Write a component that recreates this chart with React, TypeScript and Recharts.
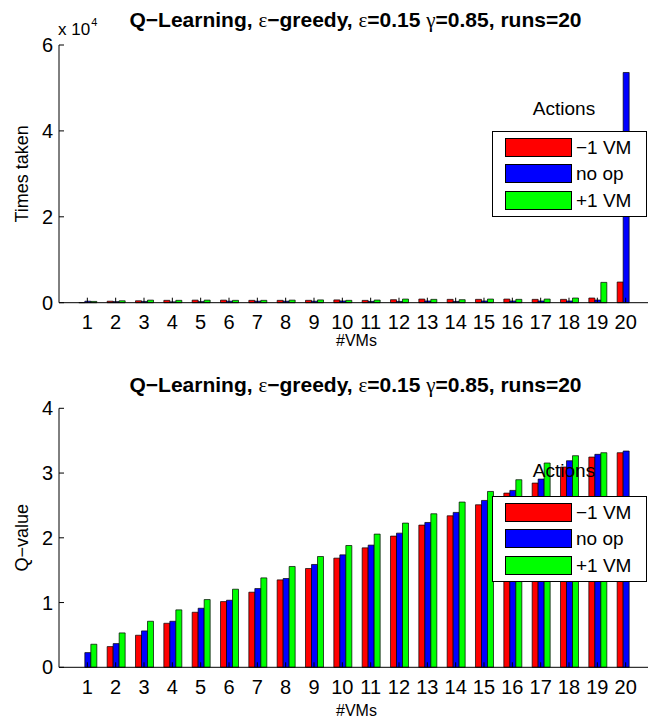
import React from 'react';
import { BarChart, Bar, XAxis, YAxis, Legend } from 'recharts';

// #VMs on the x axis
const vms = [1, 2, 3, 4, 5, 6, 7, 8, 9, 10, 11, 12, 13, 14, 15, 16, 17, 18, 19, 20];

// top panel: how many times each action was taken
const timesDec = [20, 350, 450, 550, 600, 600, 550, 550, 550, 650, 540, 700, 850, 780, 780, 850, 780, 780, 1090, 4810];
const timesNoop = [350, 250, 300, 200, 250, 350, 350, 350, 350, 400, 300, 300, 400, 300, 400, 400, 400, 400, 620, 53600];
const timesInc = [300, 450, 600, 550, 600, 550, 550, 600, 650, 550, 620, 850, 780, 700, 850, 780, 850, 1090, 4730, 0];

// bottom panel: learned Q-values
const qDec = [0, 0.32, 0.495, 0.68, 0.85, 1.015, 1.16, 1.35, 1.526, 1.686, 1.845, 2.026, 2.196, 2.34, 2.51, 2.69, 2.845, 3.093, 3.247, 3.314];
const qNoop = [0.227, 0.366, 0.562, 0.711, 0.912, 1.036, 1.216, 1.371, 1.588, 1.737, 1.887, 2.072, 2.237, 2.392, 2.577, 2.732, 2.907, 3.19, 3.289, 3.34];
const qInc = [0.356, 0.531, 0.711, 0.887, 1.046, 1.206, 1.381, 1.557, 1.711, 1.881, 2.057, 2.227, 2.371, 2.552, 2.716, 2.897, 3.155, 3.268, 3.314, 0];

const actionNames = ['\u22121 VM', 'no op', '+1 VM'];
const actionColors = ['#ff0000', '#0000ff', '#00ff00'];

const timesTicks = [0, 20000, 40000, 60000];
const qTicks = [0, 1, 2, 3, 4];

const FONT = '"Liberation Sans", Arial, Helvetica, sans-serif';

const timesData = vms.map((vm, i) => ({ vm, dec: timesDec[i], noop: timesNoop[i], inc: timesInc[i] }));
const qData = vms.map((vm, i) => ({ vm, dec: qDec[i], noop: qNoop[i], inc: qInc[i] }));

const tickStyle = { fill: '#000', fontSize: 20, fontFamily: FONT };

const Title: React.FC<{ top: number }> = ({ top }) => {
  const sym: React.CSSProperties = { fontFamily: '"Liberation Serif", "DejaVu Serif", serif', fontWeight: 'normal' };
  return (
    <div
      style={{
        position: 'absolute', top, left: 0, width: 711, textAlign: 'center',
        fontFamily: FONT, fontWeight: 'bold', fontSize: 21, lineHeight: '21px', color: '#000', whiteSpace: 'nowrap',
      }}
    >
      Q{'\u2212'}Learning, <span style={sym}>ε</span>{'\u2212'}greedy, <span style={sym}>ε</span>=0.15{' '}
      <span style={sym}>γ</span>=0.85, runs=20
    </div>
  );
};

const ActionsLegend = ({ payload, boxTop }: any) => {
  // recharts hands the entries back in reverse; keep them in the order of the series
  const items = [...(payload || [])].sort(
    (a: any, b: any) => actionNames.indexOf(a.value) - actionNames.indexOf(b.value)
  );
  return (
    <div style={{ position: 'relative', width: 156, height: boxTop + 86, fontFamily: FONT, color: '#000' }}>
      <div style={{ position: 'absolute', left: 72, top: 0, transform: 'translateX(-50%)', fontSize: 19, lineHeight: '22px' }}>
        Actions
      </div>
      <div
        style={{
          position: 'absolute', left: 0, top: boxTop, width: 155, height: 86, boxSizing: 'border-box',
          border: '1px solid #000', background: '#fff',
        }}
      >
        {items.map((p: any, i: number) => (
          <div key={p.value} style={{ position: 'absolute', left: 12, top: 6 + i * 26.5, height: 19, display: 'flex', alignItems: 'center' }}>
            <div style={{ width: 67, height: 19, boxSizing: 'border-box', background: p.color, border: '1px solid #000' }} />
            <span style={{ marginLeft: 4, fontSize: 19, lineHeight: '19px' }}>{p.value}</span>
          </div>
        ))}
      </div>
    </div>
  );
};

interface PanelProps {
  data: { vm: number; dec: number; noop: number; inc: number }[];
  height: number;
  marginTop: number;
  marginBottom: number;
  xAxisHeight: number;
  yDomain: [number, number];
  yTicks: number[];
  yFormat: (v: number) => string;
  yLabel: string;
  labelOffset: number;
  legendTop: number;
  boxTop: number;
}

const Panel: React.FC<PanelProps> = (p) => (
  <BarChart
    width={660}
    height={p.height}
    data={p.data}
    margin={{ top: p.marginTop, right: 6, bottom: p.marginBottom, left: 0 }}
    barCategoryGap="20%"
    barGap={0}
  >
    <XAxis
      dataKey="vm"
      type="category"
      padding={{ left: 14.17, right: 14.17 }}
      height={p.xAxisHeight}
      tickSize={-5}
      tickMargin={17}
      stroke="#000"
      tick={tickStyle}
      tickLine={{ stroke: '#000' }}
      axisLine={{ stroke: '#000' }}
      interval={0}
      label={{ value: '#VMs', position: 'insideBottom', offset: p.labelOffset, fill: '#000', fontSize: 16, fontFamily: FONT }}
    />
    <XAxis
      xAxisId="top"
      orientation="top"
      dataKey="vm"
      type="category"
      padding={{ left: 14.17, right: 14.17 }}
      height={0}
      tickSize={-5}
      tickFormatter={() => ''}
      stroke="#000"
      interval={0}
    />
    <YAxis
      width={59}
      domain={p.yDomain}
      ticks={p.yTicks}
      tickFormatter={p.yFormat}
      tickSize={-5}
      tickMargin={11}
      stroke="#000"
      tick={tickStyle}
      label={{
        value: p.yLabel, angle: -90, position: 'insideLeft', offset: 22, textAnchor: 'middle',
        fill: '#000', fontSize: 18, fontFamily: FONT,
      }}
    />
    <Legend
      layout="horizontal"
      verticalAlign="middle"
      align="center"
      wrapperStyle={{ left: 492, top: p.legendTop, width: 156 }}
      content={(props: any) => <ActionsLegend payload={props.payload} boxTop={p.boxTop} />}
    />
    <Bar dataKey="dec" name={actionNames[0]} fill={actionColors[0]} stroke="#000" strokeWidth={0.7} isAnimationActive={false} />
    <Bar dataKey="noop" name={actionNames[1]} fill={actionColors[1]} stroke="#000" strokeWidth={0.7} isAnimationActive={false} />
    <Bar dataKey="inc" name={actionNames[2]} fill={actionColors[2]} stroke="#000" strokeWidth={0.7} isAnimationActive={false} />
  </BarChart>
);

export default function App() {
  return (
    <div style={{ position: 'absolute', left: 0, top: 0, width: 648, height: 721, overflow: 'hidden', background: '#fff', fontFamily: FONT }}>
      <div style={{ position: 'absolute', left: 0, top: 0 }}>
        <Panel
          data={timesData}
          height={360}
          marginTop={45}
          marginBottom={12.3}
          xAxisHeight={45}
          yDomain={[0, 60000]}
          yTicks={timesTicks}
          yFormat={(v) => String(v / 10000)}
          yLabel="Times taken"
          labelOffset={2}
          legendTop={98}
          boxTop={32.7}
        />
      </div>
      <div style={{ position: 'absolute', left: 0, top: 360 }}>
        <Panel
          data={qData}
          height={361}
          marginTop={48.3}
          marginBottom={3.7}
          xAxisHeight={50}
          yDomain={[0, 4]}
          yTicks={qTicks}
          yFormat={(v) => String(v)}
          yLabel={'Q\u2212value'}
          labelOffset={1.3}
          legendTop={100}
          boxTop={35.7}
        />
      </div>
      <Title top={9.2} />
      <Title top={374.2} />
      <div style={{ position: 'absolute', left: 58, top: 20.6, fontSize: 17, lineHeight: '17px', color: '#000', whiteSpace: 'nowrap' }}>
        x 10<span style={{ fontSize: 11, position: 'relative', top: -9, marginLeft: 1 }}>4</span>
      </div>
    </div>
  );
}
